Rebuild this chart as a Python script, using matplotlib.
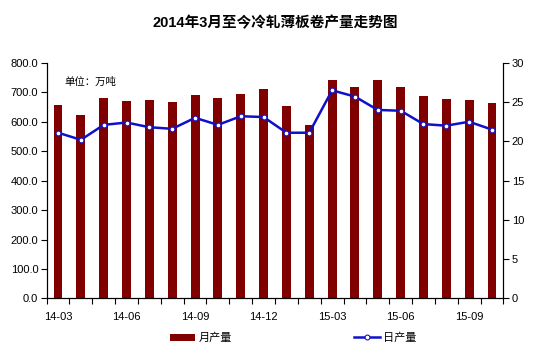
import matplotlib
matplotlib.use('Agg')
import matplotlib.pyplot as plt
import numpy as np

plt.rcParams['font.family'] = ['Liberation Sans', 'Noto Sans CJK SC', 'DejaVu Sans']

# monthly output (10k tons) and daily output, 2014-03 .. 2015-10
months = ['14-03', '14-04', '14-05', '14-06', '14-07', '14-08', '14-09', '14-10',
          '14-11', '14-12', '15-01', '15-02', '15-03', '15-04', '15-05', '15-06',
          '15-07', '15-08', '15-09', '15-10']
monthly = [656, 622, 680, 670, 673, 667, 690, 680, 694, 711,
           653, 588, 741, 717, 741, 717, 687, 677, 673, 663]
daily = [21.1, 20.2, 22.1, 22.4, 21.8, 21.6, 23.0, 22.1, 23.2, 23.1,
         21.1, 21.1, 26.5, 25.7, 24.0, 23.9, 22.2, 22.0, 22.5, 21.5]

BAR_COLOR = '#800000'
LINE_COLOR = '#1010c8'

fig = plt.figure(figsize=(5.55, 3.57), dpi=100)
ax = fig.add_axes([0.084, 0.164, 0.823, 0.660])
ax2 = ax.twinx()

x = np.arange(len(months))
bars = ax.bar(x, monthly, width=0.39, color=BAR_COLOR, zorder=2)
line, = ax2.plot(x, daily, color=LINE_COLOR, lw=1.8, marker='o', ms=3.5,
                 mfc='white', mec=LINE_COLOR, mew=0.8, zorder=3)

ax.set_xlim(-0.5, len(months) - 0.5)
ax.set_ylim(0, 800)
ax2.set_ylim(0, 30)
ax.set_yticks(np.arange(0, 801, 100))
ax.set_yticklabels(['%.1f' % v for v in np.arange(0, 801, 100)])
ax2.set_yticks(np.arange(0, 31, 5))

# category labels every 3rd month, tick marks at boundaries
ax.set_xticks(x[::3])
ax.set_xticklabels(months[::3])
ax.set_xticks(np.arange(-0.5, len(months)), minor=True)
ax.tick_params(axis='x', which='major', length=0, pad=10, labelsize=8)
ax.tick_params(axis='x', which='minor', length=4, direction='out', width=0.8)
ax.tick_params(axis='y', length=4, width=0.8, labelsize=8, pad=2)
ax2.tick_params(axis='y', length=4, width=0.8, labelsize=8, pad=2)

for a in (ax, ax2):
    a.spines['top'].set_visible(False)
    for s in ('left', 'right', 'bottom'):
        a.spines[s].set_linewidth(0.8)

ax.text(0.04, 0.92, '单位：万吨', transform=ax.transAxes, fontsize=7.5,
        ha='left', va='center')

fig.text(0.496, 0.935, '2014年3月至今冷轧薄板卷产量走势图', ha='center', va='center',
         fontsize=10.5, fontweight='bold')

fig.legend([bars, line], ['月产量', '日产量'], loc='center',
           bbox_to_anchor=(0.528, 0.053), ncol=2, frameon=False, fontsize=8,
           columnspacing=11.0, handlelength=2.3, handletextpad=0.3)

fig.savefig('out.png', dpi=100)
